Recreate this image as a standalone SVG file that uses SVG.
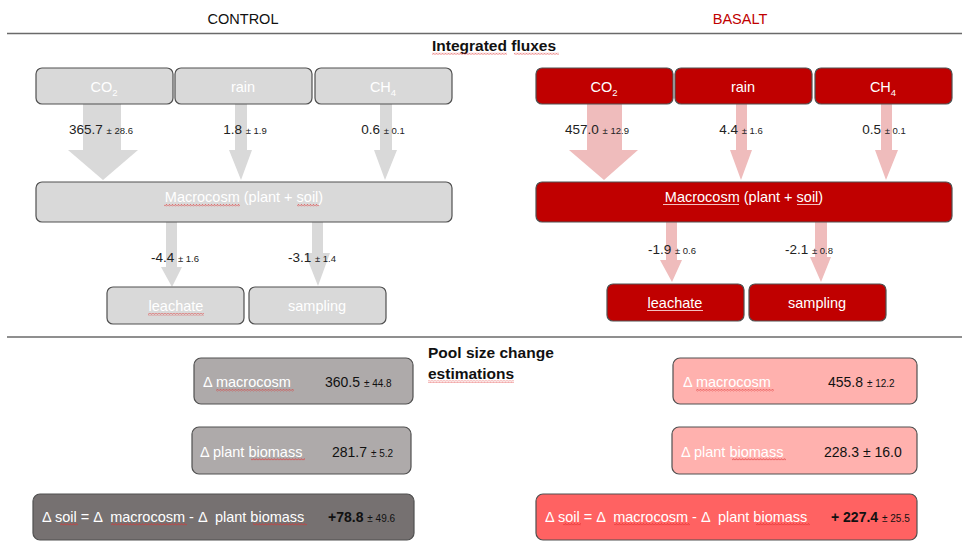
<svg xmlns="http://www.w3.org/2000/svg" width="962" height="542" viewBox="0 0 962 542">
<defs>
<pattern id="squig" width="3" height="2.4" patternUnits="userSpaceOnUse">
<path d="M0,2 L1.5,0.4 L3,2" fill="none" stroke="#e03030" stroke-width="0.7"/>
</pattern>
<style>
text{font-family:"Liberation Sans",Arial,sans-serif;white-space:pre}
.title{font-size:14.5px;text-anchor:middle}
.head{font-size:15.5px;font-weight:bold;fill:#111}
.box{stroke:#505050;stroke-width:1.2}
.cg{fill:#d9d9d9}
.br{fill:#c00000}
.lbl{font-size:14.5px;fill:#fff;text-anchor:middle}
.num{font-size:13.5px;fill:#222;text-anchor:middle}
.sm{font-size:9.5px}
.carr{fill:#d9d9d9}
.barr{fill:#efbcbc}
.pl{font-size:14.5px;fill:#fff}
.pv{font-size:14px;fill:#111}
.pvs{font-size:10px}
.sq{fill:url(#squig)}
.rule{stroke:#6a6a6a;stroke-width:1.5}
</style>
</defs>
<rect width="962" height="542" fill="#fff"/>

<g id="headers">
<text class="title" x="243" y="24" fill="#111">CONTROL</text>
<text class="title" x="740" y="24" fill="#c00000">BASALT</text>
<line class="rule" x1="7" y1="33.5" x2="962" y2="33.5"/>
<line class="rule" x1="7" y1="337" x2="962" y2="337"/>
<text class="head" x="494" y="51" text-anchor="middle">Integrated fluxes</text>
<rect class="sq" x="432" y="52.5" width="75" height="2.4"/>
<rect class="sq" x="514" y="52.5" width="45" height="2.4"/>
<text class="head" x="428" y="358" font-size="15px">Pool size change</text>
<text class="head" x="428" y="379" font-size="15px">estimations</text>
<rect class="sq" x="428" y="380.5" width="86" height="2.4"/>
</g>

<g id="connectors">
<polygon class="carr" points="83,104 121,104 121,150 138,150 103,180 68,150 83,150"/>
<polygon class="carr" points="235,104 247,104 247,150 252,150 241,180 229,150 235,150"/>
<polygon class="carr" points="380,104 392,104 392,150 397,150 385,180 374,150 380,150"/>
<polygon class="barr" points="587,104 622,104 622,150 638,150 604,180 569,150 587,150"/>
<polygon class="barr" points="736,104 747,104 747,150 752,150 741,180 730,150 736,150"/>
<polygon class="barr" points="881,104 892,104 892,150 898,150 886,180 875,150 881,150"/>
<polygon class="carr" points="166,222 177,222 177,267 182,267 172,287 161,267 166,267"/>
<polygon class="carr" points="312,222 323,222 323,253 330,253 318,286 305,253 312,253"/>
<polygon class="barr" points="666,222 677,222 677,260 682,260 672,282 660,260 666,260"/>
<polygon class="barr" points="815,222 827,222 827,257 831,257 821,282 810,257 815,257"/>
<text class="num" x="101" y="134">365.7 <tspan class="sm">± 28.6</tspan></text>
<text class="num" x="245" y="134">1.8 <tspan class="sm">± 1.9</tspan></text>
<text class="num" x="383" y="134">0.6 <tspan class="sm">± 0.1</tspan></text>
<text class="num" x="597" y="134">457.0 <tspan class="sm">± 12.9</tspan></text>
<text class="num" x="741" y="134">4.4 <tspan class="sm">± 1.6</tspan></text>
<text class="num" x="884" y="134">0.5 <tspan class="sm">± 0.1</tspan></text>
<text class="num" x="175" y="262">-4.4 <tspan class="sm">± 1.6</tspan></text>
<text class="num" x="312" y="262">-3.1 <tspan class="sm">± 1.4</tspan></text>
<text class="num" x="672" y="254">-1.9 <tspan class="sm">± 0.6</tspan></text>
<text class="num" x="809" y="254">-2.1 <tspan class="sm">± 0.8</tspan></text>
</g>

<g id="c-co2"><rect class="box cg" x="36" y="68" width="137" height="36" rx="6"/><text class="lbl" x="104" y="92">CO<tspan font-size="9.5px" dy="4">2</tspan></text></g>
<g id="c-rain"><rect class="box cg" x="175" y="68" width="137" height="36" rx="6"/><text class="lbl" x="243" y="92">rain</text></g>
<g id="c-ch4"><rect class="box cg" x="315" y="68" width="137" height="36" rx="6"/><text class="lbl" x="383" y="92">CH<tspan font-size="9.5px" dy="4">4</tspan></text></g>
<g id="b-co2"><rect class="box br" x="536" y="68" width="137" height="36" rx="6"/><text class="lbl" x="604" y="92">CO<tspan font-size="9.5px" dy="4">2</tspan></text></g>
<g id="b-rain"><rect class="box br" x="675" y="68" width="137" height="36" rx="6"/><text class="lbl" x="743" y="92">rain</text></g>
<g id="b-ch4"><rect class="box br" x="815" y="68" width="137" height="36" rx="6"/><text class="lbl" x="883" y="92">CH<tspan font-size="9.5px" dy="4">4</tspan></text></g>

<g id="c-macro"><rect class="box cg" x="36" y="182" width="416" height="40" rx="6"/><text class="lbl" x="244" y="202">Macrocosm (plant + soil)</text><rect class="sq" x="164" y="204" width="76" height="2.4"/><rect class="sq" x="297" y="204" width="22" height="2.4"/></g>
<g id="b-macro"><rect class="box br" x="536" y="182" width="416" height="40" rx="6"/><text class="lbl" x="744" y="202">Macrocosm (plant + soil)</text><rect x="663" y="204" width="76" height="1" fill="#f3c0c0"/><rect x="797" y="204" width="22" height="1" fill="#f3c0c0"/></g>

<g id="c-leach"><rect class="box cg" x="107" y="287" width="137" height="37" rx="6"/><text class="lbl" x="176" y="311">leachate</text><rect class="sq" x="148" y="313" width="56" height="2.4"/></g>
<g id="c-samp"><rect class="box cg" x="249" y="287" width="137" height="37" rx="6"/><text class="lbl" x="317" y="311">sampling</text></g>
<g id="b-leach"><rect class="box br" x="607" y="284" width="137" height="37" rx="6"/><text class="lbl" x="675" y="308">leachate</text><rect x="647" y="310" width="56" height="1" fill="#f3c0c0"/></g>
<g id="b-samp"><rect class="box br" x="749" y="284" width="137" height="37" rx="6"/><text class="lbl" x="817" y="308">sampling</text></g>

<g id="c-dmacro"><rect class="box" fill="#aeaaaa" x="194" y="358" width="219" height="46" rx="7"/><text class="pl" x="203" y="387">Δ macrocosm</text><rect class="sq" x="216" y="389" width="78" height="2.4"/><text class="pv" x="325" y="387">360.5 <tspan class="pvs">± 44.8</tspan></text></g>
<g id="c-dplant"><rect class="box" fill="#aeaaaa" x="192" y="427" width="219" height="47" rx="7"/><text class="pl" x="200" y="457">Δ plant biomass</text><rect class="sq" x="251" y="458" width="54" height="2.4"/><text class="pv" x="332" y="457">281.7 <tspan class="pvs">± 5.2</tspan></text></g>
<g id="c-dsoil"><rect class="box" fill="#767171" x="33" y="494" width="381" height="46" rx="7"/><text class="pl" x="42" y="522">Δ soil = Δ  macrocosm - Δ  plant biomass</text><rect class="sq" x="60" y="523" width="18" height="2.4"/><rect class="sq" x="111" y="523" width="76" height="2.4"/><rect class="sq" x="253" y="523" width="54" height="2.4"/><text class="pv" x="328" y="522" font-weight="bold">+78.8 <tspan class="pvs" font-weight="normal">± 49.6</tspan></text></g>

<g id="b-dmacro"><rect class="box" fill="#ffb1ae" x="673" y="358" width="244" height="46" rx="7"/><text class="pl" x="683" y="387">Δ macrocosm</text><rect class="sq" x="696" y="389" width="78" height="2.4"/><text class="pv" x="828" y="387">455.8 <tspan class="pvs">± 12.2</tspan></text></g>
<g id="b-dplant"><rect class="box" fill="#ffb1ae" x="672" y="427" width="245" height="47" rx="7"/><text class="pl" x="681" y="457">Δ plant biomass</text><rect class="sq" x="732" y="458" width="54" height="2.4"/><text class="pv" x="824" y="457">228.3 ± 16.0</text></g>
<g id="b-dsoil"><rect class="box" fill="#ff6262" x="536" y="494" width="381" height="46" rx="7"/><text class="pl" x="545" y="522">Δ soil = Δ  macrocosm - Δ  plant biomass</text><rect class="sq" x="563" y="523" width="18" height="2.4"/><rect class="sq" x="614" y="523" width="76" height="2.4"/><rect class="sq" x="756" y="523" width="54" height="2.4"/><text class="pv" x="831" y="522" font-weight="bold">+ 227.4 <tspan class="pvs" font-weight="normal">± 25.5</tspan></text></g>
</svg>
